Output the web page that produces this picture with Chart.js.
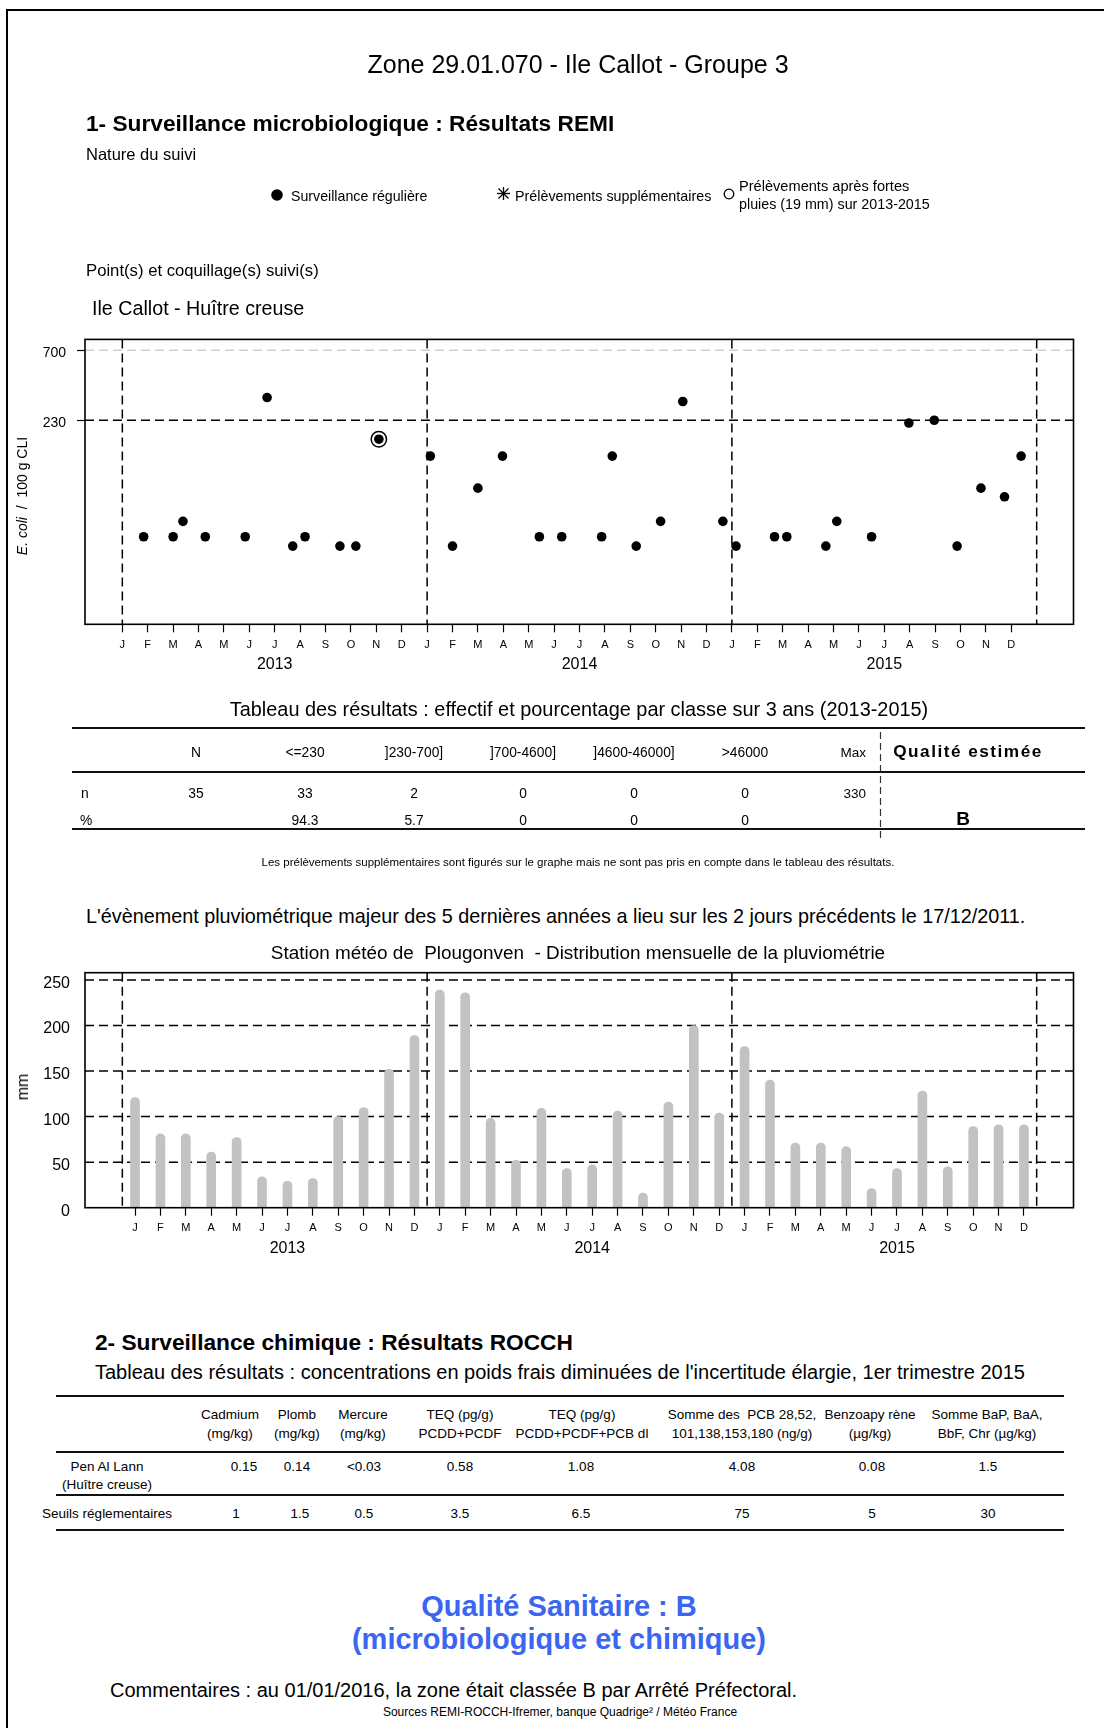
<!DOCTYPE html>
<html>
<head>
<meta charset="utf-8">
<script src="https://cdn.jsdelivr.net/npm/chart.js@4.4.0/dist/chart.umd.min.js"></script>
<style>
    body { margin: 0; width: 1104px; height: 1728px; position: relative; overflow: hidden; background: #fff;
           font-family: "Liberation Sans", Arial, sans-serif; color: #000; }
    .t { position: absolute; white-space: nowrap; line-height: 1; }
    .cadrePage { position: absolute; left: 6px; top: 9px; width: 1200px; height: 1800px;
                 border-top: 2px solid #000; border-left: 2px solid #000; }
    .regle { position: absolute; height: 0; border-top: 2px solid #111; }
    canvas { position: absolute; left: 0; }
</style>
</head>
<body>
<div class="cadrePage"></div>
<canvas id="remiChart" width="1104" height="360" style="top:320px"></canvas>
<canvas id="pluieChart" width="1104" height="330" style="top:940px"></canvas>

<!-- légende "Nature du suivi" + séparateur du tableau -->
<svg style="position:absolute;left:0;top:0" width="1104" height="860">
    <circle cx="277" cy="195" r="5.8" fill="#000"/>
    <g stroke="#000" stroke-width="1.3">
        <line x1="503.5" y1="187" x2="503.5" y2="200"/>
        <line x1="497" y1="193.5" x2="510" y2="193.5"/>
        <line x1="498.5" y1="188.5" x2="508.5" y2="198.5"/>
        <line x1="508.5" y1="188.5" x2="498.5" y2="198.5"/>
    </g>
    <circle cx="729" cy="194" r="4.8" fill="none" stroke="#000" stroke-width="1.3"/>
    <line x1="880.5" y1="732" x2="880.5" y2="838" stroke="#333" stroke-width="1.2" stroke-dasharray="7,4"/>
</svg>

<script>
// ---- Données REMI : E. coli / 100 g CLI (Ile Callot - Huître creuse)
const datesPrelev = [
    '2013-01-27', '2013-03-01', '2013-03-13', '2013-04-09', '2013-05-27', '2013-06-22',
    '2013-07-23', '2013-08-07', '2013-09-18', '2013-10-07', '2013-11-04',
    '2014-01-05', '2014-02-01', '2014-03-01', '2014-03-31', '2014-05-14', '2014-06-10',
    '2014-07-28', '2014-08-10', '2014-09-08', '2014-10-07', '2014-11-03', '2014-12-21',
    '2015-01-06', '2015-02-20', '2015-03-06', '2015-04-22', '2015-05-05', '2015-06-16',
    '2015-07-31', '2015-08-31', '2015-09-27', '2015-10-26', '2015-11-23', '2015-12-13'
];
const ecoli = [
    36, 36, 46, 36, 36, 330, 31, 36, 31, 31, 170,
    130, 31, 78, 130, 36, 36, 36, 130, 31, 46, 310, 46,
    31, 36, 36, 31, 46, 36, 220, 230, 31, 78, 68, 130
];
// prélèvements après fortes pluies (cerclés)
const datesFortesPluies = ['2013-11-04'];
const ecoliFortesPluies = [170];

const seuilsRemi = [230, 700];

// ---- Pluviométrie mensuelle (mm) - Plougonven
const pluie2013 = [121, 81, 81, 61, 77, 34, 29, 32, 100, 110, 152, 189];
const pluie2014 = [239, 236, 98, 52, 109, 43, 47, 106, 16, 116, 200, 104];
const pluie2015 = [177, 140, 71, 71, 67, 21, 43, 128, 45, 89, 91, 91];
const pluieTicks = [0, 50, 100, 150, 200, 250];

const moisLabels = ['J', 'F', 'M', 'A', 'M', 'J', 'J', 'A', 'S', 'O', 'N', 'D'];
const annees = ['2013', '2014', '2015'];
const debutsAnnee = [0, 12, 24, 36];

// ---- Tableau des résultats REMI
const classes = ['N', '<=230', ']230-700]', ']700-4600]', ']4600-46000]', '>46000'];
const effectifs = ['35', '33', '2', '0', '0', '0'];
const pourcentages = ['', '94.3', '5.7', '0', '0', '0'];
const maxRemi = '330';
const qualiteEstimee = 'B';

// ---- Tableau ROCCH
const colonnesRocch = [
    ['Cadmium', '(mg/kg)'], ['Plomb', '(mg/kg)'], ['Mercure', '(mg/kg)'],
    ['TEQ (pg/g)', 'PCDD+PCDF'], ['TEQ (pg/g)', 'PCDD+PCDF+PCB dl'],
    ['Somme des  PCB 28,52,', '101,138,153,180 (ng/g)'], ['Benzoapy rène', '(µg/kg)'],
    ['Somme BaP, BaA,', 'BbF, Chr (µg/kg)']
];
const valeursPenAlLann = ['0.15', '0.14', '<0.03', '0.58', '1.08', '4.08', '0.08', '1.5'];
const seuilsReglementaires = ['1', '1.5', '0.5', '3.5', '6.5', '75', '5', '30'];

// date -> mois décimal depuis janvier 2013
function enMois(d) {
    const [a, m, j] = d.split('-').map(Number);
    const nbJours = new Date(a, m, 0).getDate();
    return (a - 2013) * 12 + (m - 1) + (j - 1) / nbJours;
}

// ---- textes de la page
function texte(contenu, x, y, taille, opts = {}) {
    const d = document.createElement('div');
    d.className = 't';
    d.innerHTML = contenu;
    d.style.fontSize = taille + 'px';
    d.style.top = (y - taille / 2) + 'px';
    const align = opts.align || 'left';
    if (align === 'left') {
        d.style.left = x + 'px';
    } else if (align === 'center') {
        d.style.left = (x - 500) + 'px'; d.style.width = '1000px'; d.style.textAlign = 'center';
    } else {
        d.style.left = (x - 1000) + 'px'; d.style.width = '1000px'; d.style.textAlign = 'right';
    }
    if (opts.bold) d.style.fontWeight = 'bold';
    if (opts.color) d.style.color = opts.color;
    if (opts.ls) d.style.letterSpacing = opts.ls + 'px';
    document.body.appendChild(d);
    return d;
}
function regle(x1, x2, y) {
    const d = document.createElement('div');
    d.className = 'regle';
    d.style.left = x1 + 'px'; d.style.width = (x2 - x1) + 'px'; d.style.top = (y - 1) + 'px';
    document.body.appendChild(d);
}
function esc(s) { return s.replace(/&/g, '&amp;').replace(/</g, '&lt;').replace(/>/g, '&gt;'); }

texte('Zone 29.01.070 - Ile Callot - Groupe 3', 578, 64, 25, { align: 'center' });
texte('1- Surveillance microbiologique : Résultats REMI', 86, 123, 22.7, { bold: true });
texte('Nature du suivi', 86, 154, 16.5);
texte('Surveillance régulière', 291, 196, 14.2);
texte('Prélèvements supplémentaires', 515, 196, 14.3);
texte('Prélèvements après fortes', 739, 186, 14.6);
texte('pluies (19 mm) sur 2013-2015', 739, 204, 14.3);
texte('Point(s) et coquillage(s) suivi(s)', 86, 271, 16.7);
texte('Ile Callot - Huître creuse', 92, 309, 19.7);

// titres verticaux des graphes
const titreY = texte('<i>E. coli</i>&nbsp; / &nbsp;100 g CLI', 0, 0, 14);
titreY.style.left = '22px'; titreY.style.top = '496px';
titreY.style.transform = 'translate(-50%,-50%) rotate(-90deg)';
const titreMm = texte('mm', 0, 0, 16);
titreMm.style.left = '23px'; titreMm.style.top = '1087px';
titreMm.style.transform = 'translate(-50%,-50%) rotate(-90deg)';

// tableau des résultats REMI
texte('Tableau des résultats : effectif et pourcentage par classe sur 3 ans (2013-2015)', 579, 710, 19.9, { align: 'center' });
regle(72, 1085, 728);
regle(72, 1085, 772);
regle(72, 1085, 829);
const colX = [196, 305, 414, 523, 634, 745];
classes.forEach((c, i) => texte(esc(c), colX[i], 753, 13.8, { align: 'center' }));
effectifs.forEach((c, i) => texte(c, colX[i], 794, 13.8, { align: 'center' }));
pourcentages.forEach((c, i) => texte(c, colX[i], 821, 13.8, { align: 'center' }));
texte('Max', 866, 753, 13.5, { align: 'right' });
texte(maxRemi, 866, 794, 13.5, { align: 'right' });
texte('n', 81, 794, 13.8);
texte('%', 80, 821, 13.8);
texte('Qualité estimée', 968, 752, 17.2, { align: 'center', bold: true, ls: 1.5 });
texte(qualiteEstimee, 963, 818, 19, { align: 'center', bold: true });
texte('Les prélèvements supplémentaires sont figurés sur le graphe mais ne sont pas pris en compte dans le tableau des résultats.', 578, 863, 11.5, { align: 'center' });

texte('L\'évènement pluviométrique majeur des 5 dernières années a lieu sur les 2 jours précédents le 17/12/2011.', 86, 917, 19.8);
texte('Station météo de&nbsp; Plougonven&nbsp; - Distribution mensuelle de la pluviométrie', 578, 953, 18.9, { align: 'center' });

// surveillance chimique
texte('2- Surveillance chimique : Résultats ROCCH', 95, 1342, 22.7, { bold: true });
texte('Tableau des résultats : concentrations en poids frais diminuées de l\'incertitude élargie, 1er trimestre 2015', 95, 1372, 20);
regle(56, 1064, 1396);
regle(56, 1064, 1452);
regle(56, 1064, 1495);
regle(56, 1064, 1530);
const colRocch = [230, 297, 363, 460, 582, 742, 870, 987];
colonnesRocch.forEach((c, i) => {
    texte(c[0].replace(/  /g, '&nbsp; '), colRocch[i], 1415, 13.5, { align: 'center' });
    texte(c[1], colRocch[i], 1434, 13.5, { align: 'center' });
});
const ligne1X = [244, 297, 364, 460, 581, 742, 872, 988];
const ligne2X = [236, 300, 364, 460, 581, 742, 872, 988];
valeursPenAlLann.forEach((v, i) => texte(esc(v), ligne1X[i], 1467, 13.5, { align: 'center' }));
seuilsReglementaires.forEach((v, i) => texte(v, ligne2X[i], 1514, 13.5, { align: 'center' }));
texte('Pen Al Lann', 107, 1467, 13.5, { align: 'center' });
texte('(Huître creuse)', 107, 1485, 13.5, { align: 'center' });
texte('Seuils réglementaires', 107, 1514, 13.5, { align: 'center' });

texte('Qualité Sanitaire : B', 559, 1606, 29, { align: 'center', bold: true, color: '#3a66f2' });
texte('(microbiologique et chimique)', 559, 1639, 29, { align: 'center', bold: true, color: '#3a66f2' });
texte('Commentaires : au 01/01/2016, la zone était classée B par Arrêté Préfectoral.', 110, 1690, 20);
texte('Sources REMI-ROCCH-Ifremer, banque Quadrige² / Météo France', 560, 1712, 12, { align: 'center' });

// ---- plugin : lignes pointillées de référence + cadre
const lignesRef = {
    id: 'lignesRef',
    beforeDatasetsDraw(chart, args, opts) {
        const { ctx, chartArea: a, scales } = chart;
        ctx.save();
        ctx.lineWidth = 1.5;
        ctx.setLineDash([9, 5]);
        (opts.horizontales || []).forEach(l => {
            const py = scales.y.getPixelForValue(l.valeur);
            ctx.strokeStyle = l.couleur;
            ctx.beginPath(); ctx.moveTo(a.left, py); ctx.lineTo(a.right, py); ctx.stroke();
        });
        ctx.strokeStyle = '#000';
        debutsAnnee.forEach(v => {
            const px = scales.x.getPixelForValue(v);
            ctx.beginPath(); ctx.moveTo(px, a.top); ctx.lineTo(px, a.bottom); ctx.stroke();
        });
        ctx.restore();
    },
    afterDatasetsDraw(chart) {
        const { ctx, chartArea: a } = chart;
        ctx.save();
        ctx.lineWidth = 1.6;
        ctx.strokeStyle = '#000';
        ctx.strokeRect(a.left, a.top, a.right - a.left, a.bottom - a.top);
        ctx.restore();
    }
};

const xMin = -1.47, xMax = 37.45;

function axeMois(positions, hauteur) {
    return {
        type: 'linear', min: xMin, max: xMax, offset: false, weight: 0,
        afterBuildTicks: s => { s.ticks = positions.map(v => ({ value: v })); },
        afterFit: s => { s.height = hauteur; },
        ticks: {
            autoSkip: false, maxRotation: 0, color: '#000', padding: 6,
            font: { family: 'Liberation Sans', size: 11 },
            callback: v => moisLabels[Math.floor(v) % 12]
        },
        grid: { drawOnChartArea: false, drawTicks: true, tickLength: 8, tickColor: '#000', tickWidth: 1.2, offset: false },
        border: { display: false }
    };
}
function axeAnnees(positions, hauteur) {
    return {
        type: 'linear', position: 'bottom', min: xMin, max: xMax, offset: false, weight: 1,
        afterBuildTicks: s => { s.ticks = positions.map(v => ({ value: v })); },
        afterFit: s => { s.height = hauteur; },
        ticks: {
            autoSkip: false, maxRotation: 0, color: '#000', padding: 3,
            font: { family: 'Liberation Sans', size: 16 },
            callback: (v, i) => annees[i]
        },
        grid: { display: false, drawTicks: false },
        border: { display: false }
    };
}

// ---- graphe REMI
new Chart(document.getElementById('remiChart'), {
    type: 'scatter',
    data: {
        datasets: [{
            label: 'Surveillance régulière',
            data: datesPrelev.map((d, i) => ({ x: enMois(d), y: ecoli[i] })),
            backgroundColor: '#000', borderWidth: 0, pointRadius: 4.8, pointStyle: 'circle'
        }, {
            label: 'Prélèvements après fortes pluies',
            data: datesFortesPluies.map((d, i) => ({ x: enMois(d), y: ecoliFortesPluies[i] })),
            backgroundColor: 'rgba(0,0,0,0)', borderColor: '#000', borderWidth: 1.5, pointRadius: 7.7, pointStyle: 'circle'
        }]
    },
    options: {
        responsive: false, animation: false,
        layout: { padding: { left: 0, right: 30.5, top: 16.7, bottom: 0 } },
        scales: {
            x: axeMois([...Array(36).keys()], 28),
            x2: axeAnnees([6, 18, 30], 27.7),
            y: {
                type: 'logarithmic', min: 8.93, max: 833,
                afterBuildTicks: s => { s.ticks = seuilsRemi.map(v => ({ value: v })); },
                afterFit: s => { s.width = 85; },
                ticks: {
                    color: '#000', padding: 11, labelOffset: 3,
                    font: { family: 'Liberation Sans', size: 14 },
                    callback: v => String(v)
                },
                grid: { drawOnChartArea: false, drawTicks: true, tickLength: 8, tickColor: '#000', tickWidth: 1.2 },
                border: { display: false }
            }
        },
        plugins: {
            legend: { display: false }, tooltip: { enabled: false },
            lignesRef: { horizontales: [{ valeur: 700, couleur: '#cfcfcf' }, { valeur: 230, couleur: '#000' }] }
        }
    },
    plugins: [lignesRef]
});

// ---- graphe pluviométrie
const pluie = [...pluie2013, ...pluie2014, ...pluie2015];
new Chart(document.getElementById('pluieChart'), {
    type: 'bar',
    data: {
        datasets: [{
            label: 'mm',
            data: pluie.map((v, i) => ({ x: i + 0.5, y: v })),
            backgroundColor: '#c2c2c2', borderWidth: 0, barThickness: 9,
            borderRadius: { topLeft: 4.5, topRight: 4.5 }, borderSkipped: 'start'
        }]
    },
    options: {
        responsive: false, animation: false,
        layout: { padding: { left: 0, right: 30.5, top: 32.7, bottom: 0 } },
        scales: {
            x: axeMois([...Array(36).keys()].map(i => i + 0.5), 28),
            x2: axeAnnees([6.5, 18.5, 30.5], 34.3),
            y: {
                type: 'linear', min: 0, max: 258,
                afterBuildTicks: s => { s.ticks = pluieTicks.map(v => ({ value: v })); },
                afterFit: s => { s.width = 85; },
                ticks: {
                    color: '#000', padding: 15, labelOffset: 3.5,
                    font: { family: 'Liberation Sans', size: 16 }
                },
                grid: { display: false, drawTicks: false },
                border: { display: false }
            }
        },
        plugins: {
            legend: { display: false }, tooltip: { enabled: false },
            lignesRef: { horizontales: pluieTicks.filter(v => v > 0).map(v => ({ valeur: v, couleur: '#000' })) }
        }
    },
    plugins: [lignesRef]
});
</script>
</body>
</html>
